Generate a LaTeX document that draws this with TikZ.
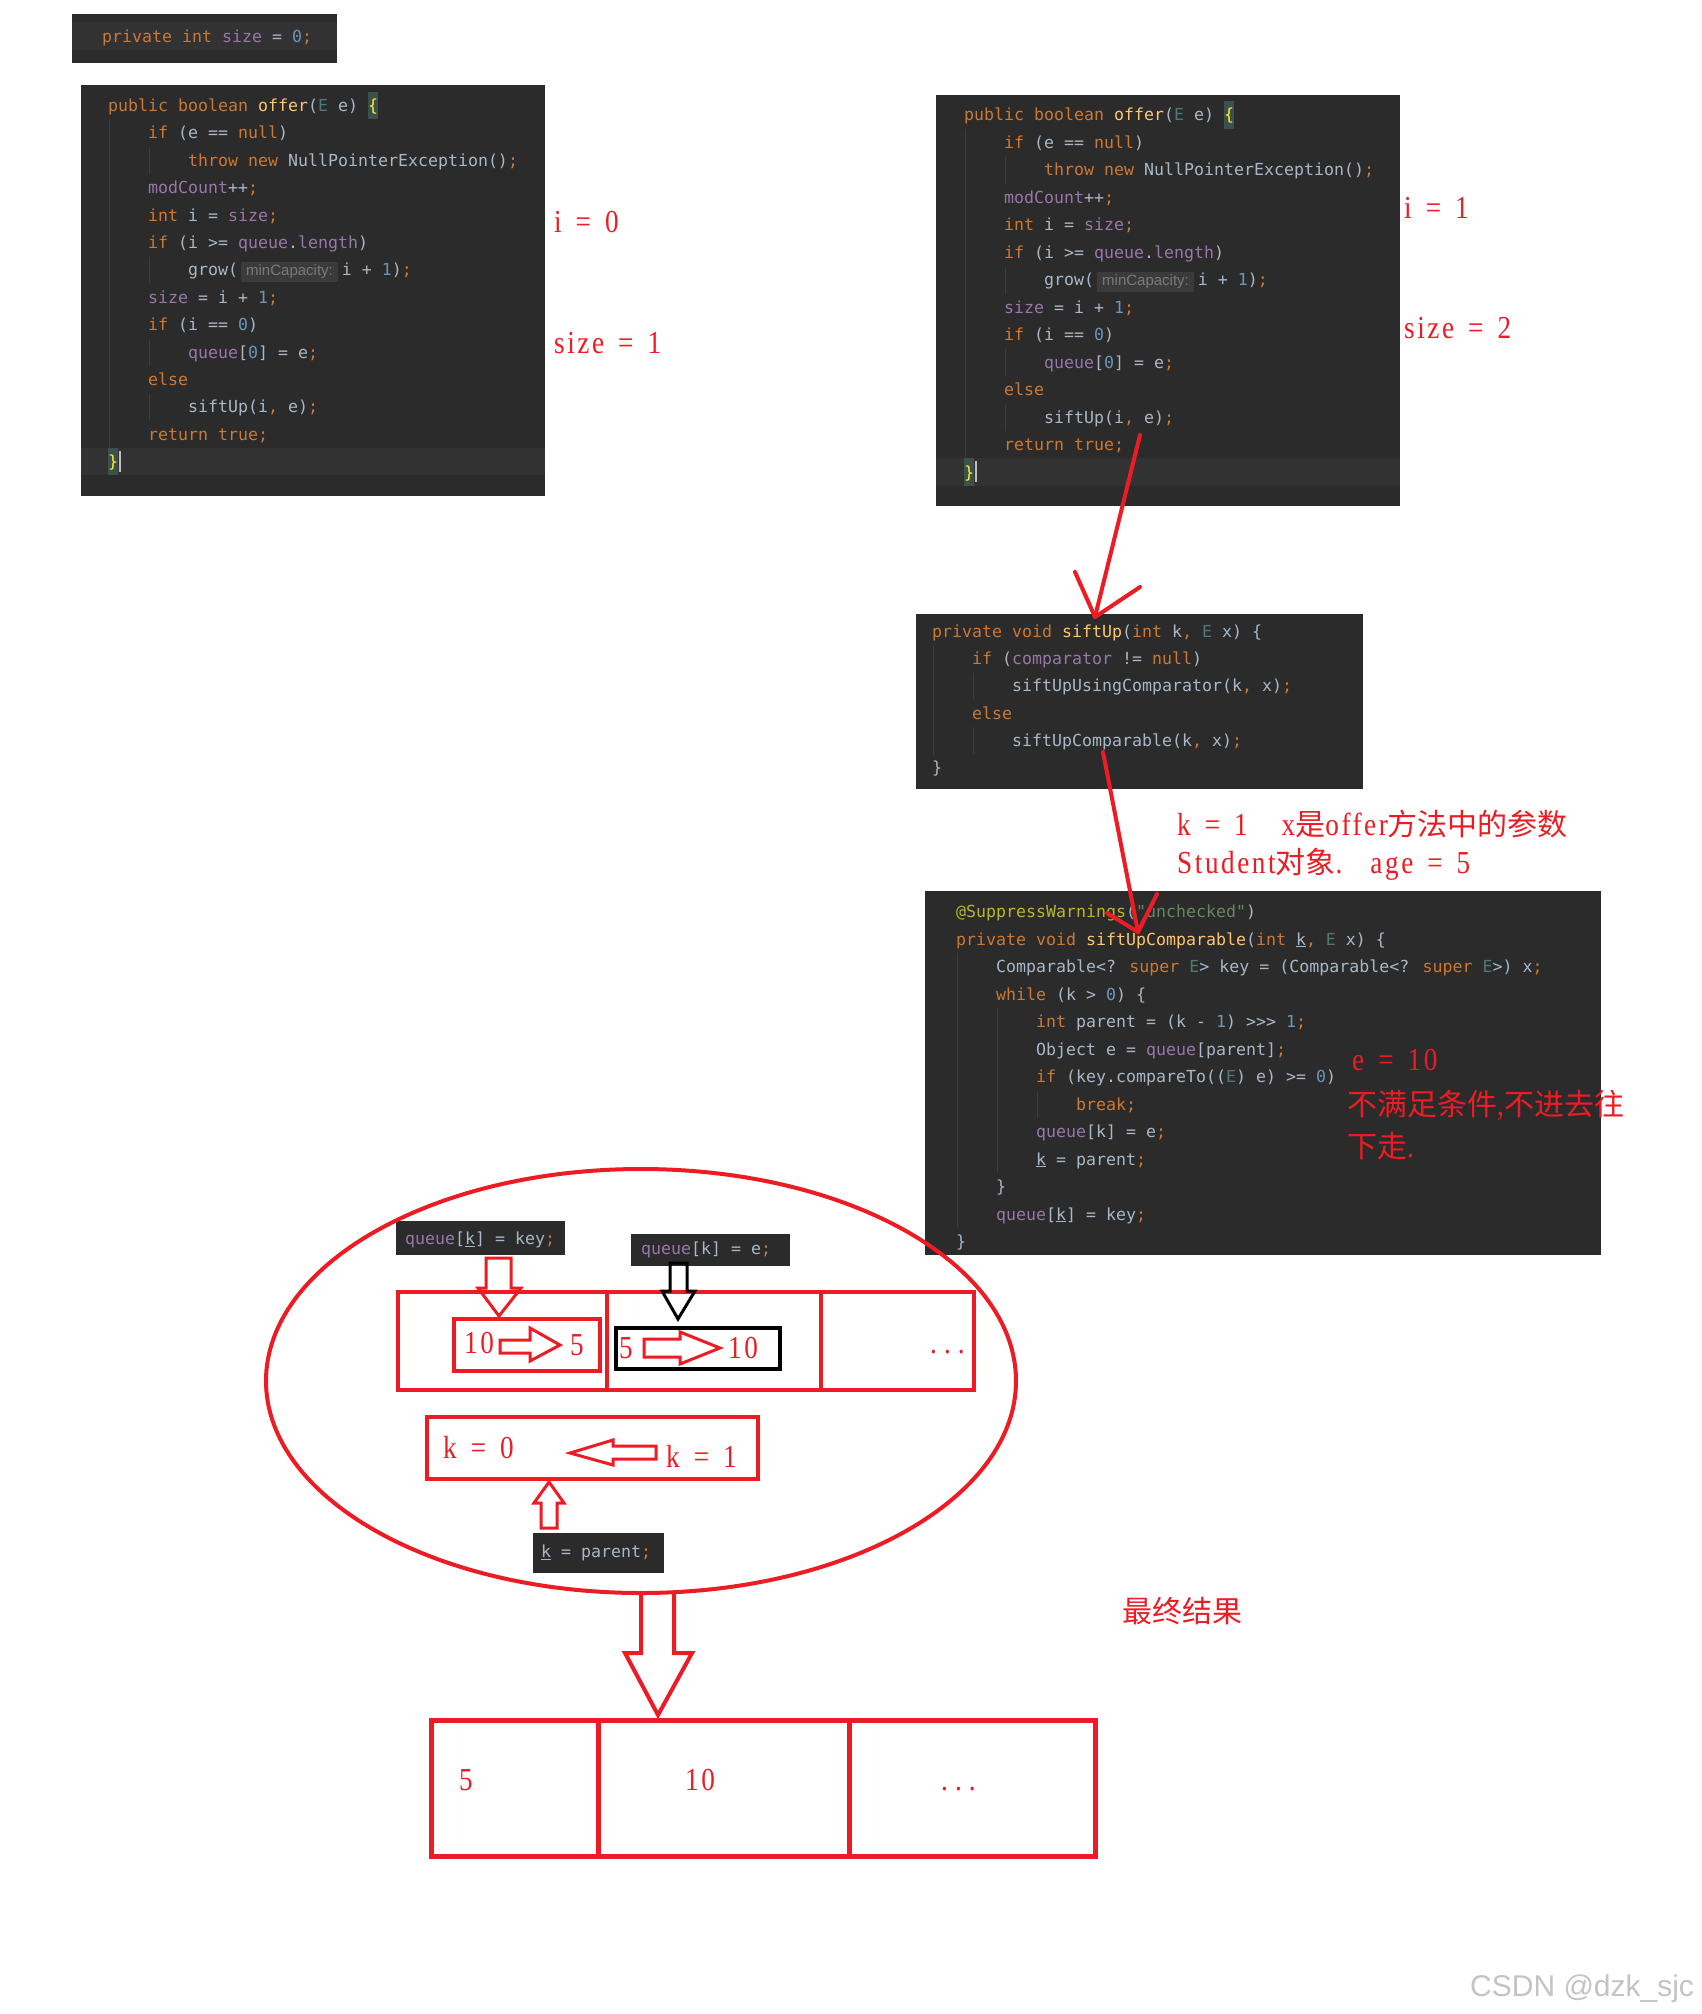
\documentclass[tikz,border=0pt]{standalone}
\usepackage{fontspec}
\newfontfamily\codefam{DejaVu Sans Mono}
\newfontfamily\hintfam{Liberation Sans}
\newfontfamily\serfam[FakeStretch=0.85,LetterSpace=8]{Liberation Serif}
\newfontfamily\cjkfam{Noto Sans CJK SC}
\newfontfamily\wmfam{Liberation Sans}
\definecolor{codebg}{HTML}{2B2B2B}
\definecolor{curln}{HTML}{323232}
\definecolor{guide}{HTML}{3C3C3C}
\definecolor{ckw}{HTML}{CC7832}
\definecolor{cfl}{HTML}{9876AA}
\definecolor{cnum}{HTML}{6897BB}
\definecolor{ctxt}{HTML}{A9B7C6}
\definecolor{cfn}{HTML}{FFC66D}
\definecolor{ctp}{HTML}{507874}
\definecolor{cann}{HTML}{BBB529}
\definecolor{cstr}{HTML}{6A8759}
\definecolor{hintc}{HTML}{7A7A7A}
\definecolor{hintbg}{HTML}{3B3B3B}
\definecolor{bracebg}{HTML}{3B514D}
\definecolor{bracefg}{HTML}{FFEF28}
\definecolor{pred}{HTML}{ED1C24}
\definecolor{wmgray}{HTML}{C4C4C4}
\setlength\fboxsep{3pt}
\newcommand\kwd[1]{\textcolor{ckw}{#1}}
\newcommand\fldc[1]{\textcolor{cfl}{#1}}
\newcommand\numc[1]{\textcolor{cnum}{#1}}
\newcommand\fnc[1]{\textcolor{cfn}{#1}}
\newcommand\tpc[1]{\textcolor{ctp}{#1}}
\newcommand\annc[1]{\textcolor{cann}{#1}}
\newcommand\strc[1]{\textcolor{cstr}{#1}}
\newcommand\brc[1]{\textcolor{bracefg}{#1}}
\newcommand\hintbox{\colorbox{hintbg}{\hintfam\fontsize{15}{18}\selectfont\color{hintc}\hspace{2pt}minCapacity:\hspace{2pt}}}
\newcommand\zh[1]{{\cjkfam\fontsize{30}{34}\selectfont #1}}
\newcommand\annfont{\serfam\fontsize{32}{36}\selectfont\setlength\spaceskip{14pt}}
\newcommand\codeln[4]{\node[code] (#1) at (#2,#3) {#4};}
\tikzset{
  code/.style={font=\codefam\fontsize{16.6}{20}\selectfont, text=ctxt, anchor=west, inner sep=0pt, text height=12pt, text depth=4pt, yshift=-1.5pt},
  ann/.style={font=\annfont, text=pred, anchor=base west, inner sep=0pt},
  guideln/.style={draw=guide, line width=1pt},
  redpen/.style={draw=pred, line width=4pt, line cap=round, line join=round},
  blockarrow/.style={draw=pred, line width=3pt, line join=miter},
  cell/.style={draw=pred, line width=4.5pt}
}
\begin{document}
\begin{tikzpicture}[x=1pt,y=-1pt]
\fill[white] (0,0) rectangle (1702,2014);
\useasboundingbox (0,0) rectangle (1702,2014);

% ---------- top small box
\fill[codebg] (72,14) rectangle (337,63);
\fill[curln] (72,22) rectangle (337,50);
\codeln{topln}{102}{37}{\kwd{private int} \fldc{size} = \numc{0}\kwd{;}}

% ---------- offer box 1
\fill[codebg] (81,85) rectangle (545,496);
\fill[curln] (81,448) rectangle (545,475);
\fill[bracebg] (368,92) rectangle (378,119);
\fill[bracebg] (108,448) rectangle (118,475);
\fill[white!75!black] (118.5,451) rectangle (120.5,472);
\draw[guideln] (109,119) -- (109,448);
\draw[guideln] (149,147) -- (149,174);
\draw[guideln] (149,257) -- (149,284);
\draw[guideln] (149,339) -- (149,366);
\draw[guideln] (149,394) -- (149,421);
\codeln{oa1}{108}{106}{\kwd{public boolean} \fnc{offer}(\tpc{E} e) \brc{\{}}
\codeln{oa2}{148}{133.4}{\kwd{if} (e == \kwd{null})}
\codeln{oa3}{188}{160.8}{\kwd{throw new} NullPointerException()\kwd{;}}
\codeln{oa4}{148}{188.2}{\fldc{modCount}++\kwd{;}}
\codeln{oa5}{148}{215.6}{\kwd{int} i = \fldc{size}\kwd{;}}
\codeln{oa6}{148}{243}{\kwd{if} (i >= \fldc{queue}.\fldc{length})}
\codeln{oa7}{188}{270.4}{grow(\hspace{3pt}\hintbox\hspace{4pt}i + \numc{1})\kwd{;}}
\codeln{oa8}{148}{297.8}{\fldc{size} = i + \numc{1}\kwd{;}}
\codeln{oa9}{148}{325.2}{\kwd{if} (i == \numc{0})}
\codeln{oa10}{188}{352.6}{\fldc{queue}[\numc{0}] = e\kwd{;}}
\codeln{oa11}{148}{380}{\kwd{else}}
\codeln{oa12}{188}{407.4}{siftUp(i\kwd{,} e)\kwd{;}}
\codeln{oa13}{148}{434.8}{\kwd{return true;}}
\codeln{oa14}{108}{462.2}{\brc{\}}}

% ---------- offer box 2
\fill[codebg] (936,95) rectangle (1400,506);
\fill[curln] (936,458) rectangle (1400,486);
\fill[bracebg] (1224,101) rectangle (1234,129);
\fill[bracebg] (964,458) rectangle (974,486);
\fill[white!75!black] (974.5,461) rectangle (976.5,482);
\draw[guideln] (965,129) -- (965,459);
\draw[guideln] (1005,157) -- (1005,184);
\draw[guideln] (1005,267) -- (1005,294);
\draw[guideln] (1005,349) -- (1005,376);
\draw[guideln] (1005,404) -- (1005,431);
\codeln{ob1}{964}{115}{\kwd{public boolean} \fnc{offer}(\tpc{E} e) \brc{\{}}
\codeln{ob2}{1004}{142.5}{\kwd{if} (e == \kwd{null})}
\codeln{ob3}{1044}{170}{\kwd{throw new} NullPointerException()\kwd{;}}
\codeln{ob4}{1004}{197.5}{\fldc{modCount}++\kwd{;}}
\codeln{ob5}{1004}{225}{\kwd{int} i = \fldc{size}\kwd{;}}
\codeln{ob6}{1004}{252.5}{\kwd{if} (i >= \fldc{queue}.\fldc{length})}
\codeln{ob7}{1044}{280}{grow(\hspace{3pt}\hintbox\hspace{4pt}i + \numc{1})\kwd{;}}
\codeln{ob8}{1004}{307.5}{\fldc{size} = i + \numc{1}\kwd{;}}
\codeln{ob9}{1004}{335}{\kwd{if} (i == \numc{0})}
\codeln{ob10}{1044}{362.5}{\fldc{queue}[\numc{0}] = e\kwd{;}}
\codeln{ob11}{1004}{390}{\kwd{else}}
\codeln{ob12}{1044}{417.5}{siftUp(i\kwd{,} e)\kwd{;}}
\codeln{ob13}{1004}{445}{\kwd{return true;}}
\codeln{ob14}{964}{472.5}{\brc{\}}}

% ---------- siftUp box
\fill[codebg] (916,614) rectangle (1363,789);
\draw[guideln] (933,645) -- (933,755);
\draw[guideln] (973,673) -- (973,700);
\draw[guideln] (973,727) -- (973,754);
\codeln{su1}{932}{632}{\kwd{private void} \fnc{siftUp}(\kwd{int} k\kwd{,} \tpc{E} x) \{}
\codeln{su2}{972}{659.2}{\kwd{if} (\fldc{comparator} != \kwd{null})}
\codeln{su3}{1012}{686.4}{siftUpUsingComparator(k\kwd{,} x)\kwd{;}}
\codeln{su4}{972}{713.6}{\kwd{else}}
\codeln{su5}{1012}{740.8}{siftUpComparable(k\kwd{,} x)\kwd{;}}
\codeln{su6}{932}{768}{\}}

% ---------- siftUpComparable box
\fill[codebg] (925,891) rectangle (1601,1255);
\draw[guideln] (957,953) -- (957,1228);
\draw[guideln] (997,1008) -- (997,1173);
\draw[guideln] (1037,1091) -- (1037,1118);
\codeln{sc1}{956}{912}{\annc{@SuppressWarnings}(\strc{"unchecked"})}
\codeln{sc2}{956}{939.5}{\kwd{private void} \fnc{siftUpComparable}(\kwd{int} \underline{k}\kwd{,} \tpc{E} x) \{}
\codeln{sc3}{996}{967}{Comparable<? \kwd{super} \tpc{E}> key = (Comparable<? \kwd{super} \tpc{E}>) x\kwd{;}}
\codeln{sc4}{996}{994.5}{\kwd{while} (k > \numc{0}) \{}
\codeln{sc5}{1036}{1022}{\kwd{int} parent = (k - \numc{1}) >>> \numc{1}\kwd{;}}
\codeln{sc6}{1036}{1049.5}{Object e = \fldc{queue}[parent]\kwd{;}}
\codeln{sc7}{1036}{1077}{\kwd{if} (key.compareTo((\tpc{E}) e) >= \numc{0})}
\codeln{sc8}{1076}{1104.5}{\kwd{break;}}
\codeln{sc9}{1036}{1132}{\fldc{queue}[k] = e\kwd{;}}
\codeln{sc10}{1036}{1159.5}{\underline{k} = parent\kwd{;}}
\codeln{sc11}{996}{1187}{\}}
\codeln{sc12}{996}{1214.5}{\fldc{queue}[\underline{k}] = key\kwd{;}}
\codeln{sc13}{956}{1242}{\}}

% ---------- red annotations
\node[ann] (i0) at (554,232) {i = 0};
\node[ann] (s1) at (554,353) {size = 1};
\node[ann] (i1) at (1404,218) {i = 1};
\node[ann] (s2) at (1404,338) {size = 2};
\node[ann] (kx) at (1177,835) {k = 1\hspace{34pt}x\zh{是}offer\zh{方法中的参数}};
\node[ann] (stu) at (1177,873) {Student\zh{对象}.\hspace{28pt}age = 5};
\node[ann] (e10) at (1352,1070) {e = 10};
\node[ann] (nm1) at (1347,1115) {\zh{不满足条件}{,}\zh{不进去往}};
\node[ann] (nm2) at (1347,1157) {\zh{下走}.};
\node[ann] (fin) at (1122,1622) {\zh{最终结果}};

% ---------- hand drawn red arrows
\coordinate (r1s) at (1140,435);
\coordinate (r1t) at (1095,617);
\coordinate (r1l) at (1075,572);
\coordinate (r1r) at (1140,587);
\draw[redpen] (r1s) -- (r1t);
\draw[redpen] (r1l) -- (r1t) -- (r1r);
\coordinate (r2s) at (1103,752);
\coordinate (r2t) at (1138,932);
\coordinate (r2l) at (1107,913);
\coordinate (r2r) at (1157,894);
\draw[redpen] (r2s) -- (r2t);
\draw[redpen] (r2l) -- (r2t) -- (r2r);

% ---------- inside the ellipse
\fill[codebg] (396,1221) rectangle (565,1255);
\codeln{qkey}{405}{1239}{\fldc{queue}[\underline{k}] = key\kwd{;}}
\fill[codebg] (631,1234) rectangle (790,1266);
\codeln{qe}{641}{1249}{\fldc{queue}[k] = e\kwd{;}}
\fill[codebg] (533,1533) rectangle (664,1573);
\codeln{kpar}{541}{1552}{\underline{k} = parent\kwd{;}}

% top array
\draw[cell] (398,1292) rectangle (974,1390);
\draw[cell] (607,1292) -- (607,1390);
\draw[cell] (821,1292) -- (821,1390);
% inner red box 10 -> 5
\draw[draw=pred, line width=4pt] (454,1319) rectangle (600,1371);
\node[ann] (n10a) at (464,1353) {10};
\node[ann] (n5a) at (570,1355) {5};
\draw[blockarrow] (500,1340) -- (530,1340) -- (530,1328) -- (560,1345) -- (530,1361) -- (530,1353) -- (500,1353) -- cycle;
% black box 5 -> 10
\draw[draw=black, line width=4pt] (616,1328) rectangle (780,1369);
\node[ann] (n5b) at (619,1358) {5};
\node[ann] (n10b) at (728,1358) {10};
\draw[blockarrow] (644,1339) -- (680,1339) -- (680,1332) -- (720,1348) -- (680,1364) -- (680,1357) -- (644,1357) -- cycle;
\node[ann] (dotsa) at (930,1353) {.\hspace{7pt}.\hspace{7pt}.};
% down arrows
\draw[blockarrow] (486,1258) -- (511,1258) -- (511,1288) -- (521,1288) -- (499,1316) -- (478,1288) -- (486,1288) -- cycle;
\draw[draw=black, line width=3pt] (670,1263) -- (687,1263) -- (687,1291) -- (695,1291) -- (678,1319) -- (662,1291) -- (670,1291) -- cycle;
% k box
\draw[cell] (427,1417) rectangle (758,1479);
\node[ann] (k0) at (443,1458) {k = 0};
\node[ann] (k1) at (666,1467) {k = 1};
\draw[blockarrow] (656,1446) -- (613,1446) -- (613,1440) -- (570,1453) -- (613,1465) -- (613,1459) -- (656,1459) -- cycle;
\draw[blockarrow] (541,1528) -- (541,1503) -- (534,1503) -- (549,1482) -- (564,1503) -- (557,1503) -- (557,1528) -- cycle;

% ellipse
\draw[draw=pred, line width=4pt] (641,1381) ellipse [x radius=375pt, y radius=212pt];

% big arrow down
\draw[draw=pred, line width=4pt, line join=miter] (641,1593) -- (641,1653) -- (625,1653) -- (658,1715) -- (692,1653) -- (674,1653) -- (674,1593);

% bottom array
\draw[cell, line width=5pt] (431,1720) rectangle (1095,1856);
\draw[cell, line width=5pt] (598,1720) -- (598,1856);
\draw[cell, line width=5pt] (849,1720) -- (849,1856);
\node[ann] (b5) at (459,1790) {5};
\node[ann] (b10) at (685,1790) {10};
\node[ann] (bdots) at (941,1790) {.\hspace{7pt}.\hspace{7pt}.};

% watermark
\node[anchor=base west, inner sep=0pt, font=\wmfam\fontsize{30}{34}\selectfont, text=wmgray] (wm) at (1470,1996) {CSDN @dzk\_sjc};
\end{tikzpicture}
\end{document}
